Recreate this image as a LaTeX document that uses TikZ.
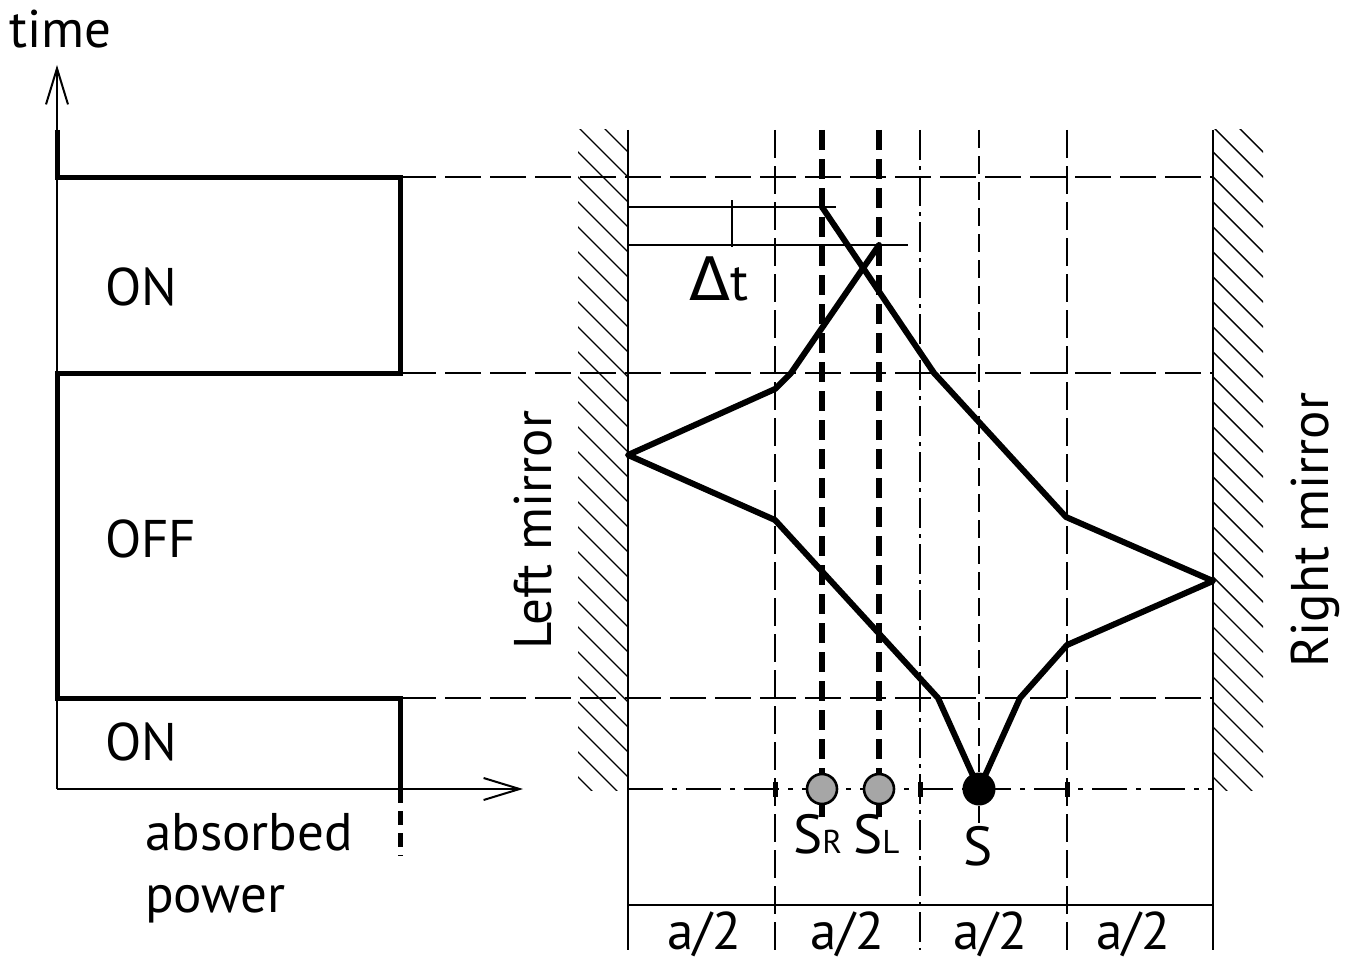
\documentclass[tikz,border=0pt]{standalone}
\usepackage{fontspec}
\setmainfont{PT Sans}
\newfontfamily\grkfont{DejaVu Sans}
\usetikzlibrary{arrows.meta}
\newcommand\labfont{\fontsize{53}{62}\selectfont}
\newcommand\sfontbig{\fontsize{55}{62}\selectfont}
\newcommand\sfontsmall{\fontsize{33}{40}\selectfont}
\begin{document}
\begin{tikzpicture}[x=1pt,y=-1pt,
  thinline/.style={line width=1.8pt},
  hatchline/.style={line width=1.4pt},
  mirrorline/.style={line width=2.8pt},
  griddash/.style={line width=1.5pt, dash pattern=on 36pt off 9pt},
  vdash/.style={line width=1.5pt, dash pattern=on 28pt off 8pt},
  vdashdot/.style={line width=1.5pt, dash pattern=on 30pt off 6pt on 4pt off 6pt},
  sdash/.style={line width=1.5pt, dash pattern=on 18pt off 8pt},
  bigdash/.style={line width=5.5pt, dash pattern=on 20pt off 9pt},
  axisdashdot/.style={line width=2.2pt, dash pattern=on 35pt off 9pt on 5pt off 9pt},
  powerline/.style={line width=5pt, line join=miter},
  beam/.style={line width=6pt, line join=round, line cap=round},
  axisarrow/.style={thinline, -{Straight Barb[length=36pt,width=22pt,line width=2pt]}},
  lab/.style={inner sep=0pt, font=\labfont},
  tick/.style={line width=5pt},
  srcgray/.style={circle, draw=black, line width=2.6pt, fill=black!35, minimum size=30pt, inner sep=0pt},
  srcblack/.style={circle, fill=black, minimum size=33pt, inner sep=0pt}
]
\useasboundingbox (0,0) rectangle (1357,963);

% ---------- hatching ----------
\begin{scope}
  \clip (578,130) rectangle (628,790);
  \foreach \k in {-14,...,16} {
    \draw[hatchline] (528,{452+25*\k-100}) -- (628,{452+25*\k});
  }
\end{scope}
\begin{scope}
  \clip (1213,130) rectangle (1263,790);
  \foreach \k in {-8,...,27} {
    \draw[hatchline] (1213,{152+25*\k}) -- (1313,{152+25*\k+100});
  }
\end{scope}

% ---------- coordinates ----------
\coordinate (o) at (57,789);
\coordinate (ytip) at (57,65);
\coordinate (xtip) at (523,789);
\coordinate (p0) at (57,130);
\coordinate (p1) at (57,177);
\coordinate (p2) at (400,177);
\coordinate (p3) at (400,373);
\coordinate (p4) at (57,373);
\coordinate (p5) at (57,698);
\coordinate (p6) at (400,698);
\coordinate (p7) at (400,789);
\coordinate (p8) at (400,856);

\coordinate (LMt) at (628,130); \coordinate (LMb) at (628,950);
\coordinate (RMt) at (1213,130); \coordinate (RMb) at (1213,950);
\coordinate (g1t) at (775,130); \coordinate (g1b) at (775,950);
\coordinate (g2t) at (920,130); \coordinate (g2b) at (920,950);
\coordinate (g3t) at (1067,130); \coordinate (g3b) at (1067,950);
\coordinate (gSt) at (979,130); \coordinate (gSb) at (979,823);
\coordinate (srt) at (822,130); \coordinate (srb) at (822,822);
\coordinate (slt) at (879,130); \coordinate (slb) at (879,822);

\coordinate (h1a) at (400,177); \coordinate (h1b) at (1213,177);
\coordinate (h2a) at (400,373); \coordinate (h2b) at (1213,373);
\coordinate (h3a) at (400,698); \coordinate (h3b) at (1213,698);
\coordinate (ax1) at (628,789); \coordinate (ax2) at (1213,789);
\coordinate (dm1) at (628,905); \coordinate (dm2) at (1213,905);

\coordinate (S0) at (979,789);
\coordinate (L1) at (938,698);
\coordinate (L2) at (775,520);
\coordinate (L3) at (628,455);
\coordinate (L4) at (775,389);
\coordinate (L5) at (791,373);
\coordinate (L6) at (879,245);
\coordinate (R1) at (1020,698);
\coordinate (R2) at (1067,645);
\coordinate (R3) at (1213,581);
\coordinate (R4) at (1066,517);
\coordinate (R5) at (934,373);
\coordinate (R6) at (822,207);

\coordinate (dtA1) at (628,207); \coordinate (dtA2) at (836,207);
\coordinate (dtB1) at (628,245); \coordinate (dtB2) at (908,245);
\coordinate (dtT1) at (732,200); \coordinate (dtT2) at (732,247);

% ---------- left panel ----------
\draw[axisarrow] (o) -- (ytip);
\draw[axisarrow] (o) -- (xtip);
\draw[powerline] (p0) -- (p1) -- (p2) -- (p3) -- (p4) -- (p5) -- (p6) -- (p7);
\draw[line width=5pt, dash pattern=on 14pt off 8pt] (p7) -- (p8);

% ---------- grid ----------
\draw[griddash] (h1a) -- (h1b);
\draw[griddash] (h2a) -- (h2b);
\draw[griddash] (h3a) -- (h3b);
\draw[vdash] (g1t) -- (g1b);
\draw[vdashdot] (g2t) -- (g2b);
\draw[vdash] (g3t) -- (g3b);
\draw[sdash] (gSt) -- (gSb);
\draw[mirrorline] (LMt) -- (LMb);
\draw[mirrorline] (RMt) -- (RMb);
\draw[thinline] (dm1) -- (dm2);
\draw[axisdashdot] (ax1) -- (ax2);
\foreach \x in {775,920,1067} { \draw[tick] (\x,782) -- (\x,797); }

% ---------- delta t ----------
\draw[thinline] (dtA1) -- (dtA2);
\draw[thinline] (dtB1) -- (dtB2);
\draw[thinline] (dtT1) -- (dtT2);

% ---------- source lines ----------
\draw[bigdash] (srt) -- (srb);
\draw[bigdash] (slt) -- (slb);

% ---------- beams ----------
\draw[beam] (S0) -- (L1) -- (L2) -- (L3) -- (L4) -- (L5) -- (L6);
\draw[beam] (S0) -- (R1) -- (R2) -- (R3) -- (R4) -- (R5) -- (R6);

% ---------- sources ----------
\node[srcgray] (SR) at (822,789) {};
\node[srcgray] (SL) at (879,789) {};
\node[srcblack] (S) at (S0) {};

% ---------- texts ----------
\node[lab, anchor=base west] (time) at (9,48) {time};
\node[lab, anchor=base west] (on1) at (105,305) {ON};
\node[lab, anchor=base west] (off) at (105,557) {OFF};
\node[lab, anchor=base west] (on2) at (105,760) {ON};
\node[lab, anchor=base west] (abs) at (145,850) {absorbed};
\node[lab, anchor=base west] (pow) at (145,912) {power};
\node[lab, anchor=base west, rotate=90] (lm) at (551,650) {Left mirror};
\node[lab, anchor=base west, rotate=90] (rm) at (1328,668) {Right mirror};
\node[inner sep=0pt, anchor=base west] (dt) at (689,300) {{\grkfont\fontsize{60}{66}\selectfont Δ}{\labfont t}};
\node[inner sep=0pt, anchor=base west] (srl) at (793,853) {\sfontbig S\sfontsmall R};
\node[inner sep=0pt, anchor=base west] (sll) at (853,853) {\sfontbig S\sfontsmall L};
\node[inner sep=0pt, anchor=base] (sl) at (978,865) {\sfontbig S};
\foreach \cx/\nm in {704/aa,847/ab,990/ac,1133/ad} {
  \node[lab, anchor=base] (\nm) at (\cx,949) {a/2};
}
\end{tikzpicture}
\end{document}
